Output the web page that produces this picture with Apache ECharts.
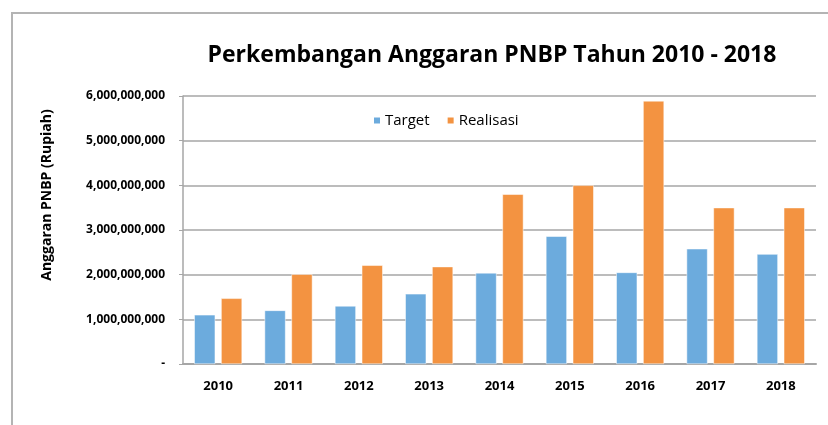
<!DOCTYPE html>
<html>
<head>
<meta charset="utf-8">
<script src="https://cdn.jsdelivr.net/npm/echarts@6/dist/echarts.min.js"></script>
<style>
  html, body { margin: 0; padding: 0; background: #fff; }
  #chart { width: 828px; height: 425px; }
</style>
</head>
<body>
<div id="chart"></div>
<script>
// data
var years = ['2010', '2011', '2012', '2013', '2014', '2015', '2016', '2017', '2018'];
var target = [1100000000, 1200000000, 1300000000, 1570000000, 2040000000, 2860000000, 2050000000, 2580000000, 2460000000];
var realisasi = [1470000000, 2010000000, 2210000000, 2180000000, 3800000000, 4000000000, 5890000000, 3500000000, 3500000000];

var font = "'Open Sans', 'Noto Sans', sans-serif";

function fmt(v) {
  if (v === 0) return '-';
  return String(v).replace(/\B(?=(\d{3})+(?!\d))/g, ',');
}

var myChart = echarts.init(document.getElementById('chart'));
var option = {
  animation: false,
  textStyle: { fontFamily: font },
  title: {
    text: 'Perkembangan Anggaran PNBP Tahun 2010 - 2018',
    left: 487,
    textAlign: 'center',
    top: 39,
    textStyle: { fontSize: 23, fontWeight: 'bold', color: '#000', fontFamily: font }
  },
  legend: {
    data: ['Target', 'Realisasi'],
    left: 367,
    top: 108,
    itemWidth: 8,
    itemHeight: 8,
    itemGap: 16,
    icon: 'rect',
    textStyle: { fontSize: 15, color: '#000', fontFamily: font, padding: [0, 0, 0, -1] }
  },
  grid: { left: 183, right: 12, top: 96, bottom: 61 },
  xAxis: {
    type: 'category',
    data: years,
    axisLine: { lineStyle: { color: '#a6a6a6', width: 2 } },
    axisTick: { show: false },
    axisLabel: { fontSize: 13, fontWeight: 'bold', color: '#000', margin: 16 }
  },
  yAxis: {
    type: 'value',
    min: 0,
    max: 6000000000,
    interval: 1000000000,
    axisLine: { show: true, lineStyle: { color: '#a6a6a6', width: 1.5 } },
    axisTick: { show: true, length: 4, lineStyle: { color: '#a6a6a6' } },
    splitLine: { lineStyle: { color: '#a6a6a6', width: 1.5 } },
    axisLabel: { fontSize: 12, fontWeight: 'bold', color: '#000', margin: 18, formatter: fmt }
  },
  graphic: [
    {
      type: 'rect',
      shape: { x: 12, y: 13, width: 900, height: 500 },
      style: { fill: 'none', stroke: '#b4b4b4', lineWidth: 2 },
      silent: true
    },
    {
      type: 'text',
      x: 47,
      y: 195,
      rotation: Math.PI / 2,
      style: {
        text: 'Anggaran PNBP (Rupiah)',
        fill: '#000',
        font: 'bold 14px ' + font,
        align: 'center',
        verticalAlign: 'middle'
      }
    }
  ],
  series: [
    {
      name: 'Target',
      type: 'bar',
      data: target,
      barGap: '28%',
      barCategoryGap: '32%',
      itemStyle: { color: '#6cabdd', borderColor: '#ffffff', borderWidth: 0.5 }
    },
    {
      name: 'Realisasi',
      type: 'bar',
      data: realisasi,
      itemStyle: { color: '#f39341', borderColor: '#ffffff', borderWidth: 0.5 }
    }
  ]
};
myChart.setOption(option);
</script>
</body>
</html>
